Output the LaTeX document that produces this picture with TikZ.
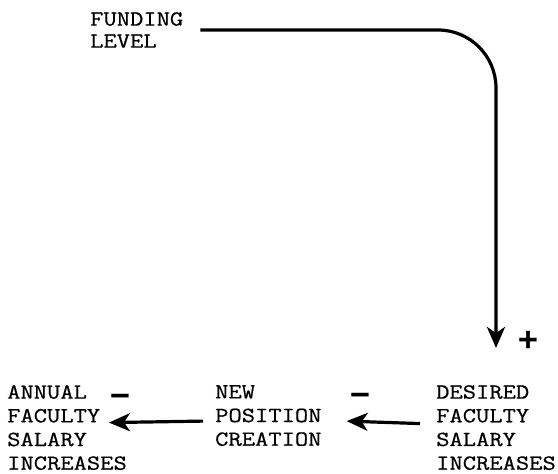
\documentclass[tikz,border=0pt]{standalone}
\usepackage{fontspec}
\usetikzlibrary{arrows.meta}
\newfontfamily\typewriter{Latin Modern Mono}[FakeStretch=1.2, FakeBold=0.6]
\newfontfamily\signfont{DejaVu Sans Bold}[FakeBold=1.5]
\begin{document}
\begin{tikzpicture}[x=1pt,y=-1pt,
  label text/.style={inner sep=0pt, anchor=north west, align=left,
    font=\typewriter\fontsize{21.5}{23.7}\selectfont},
  sign/.style={inner sep=0pt, font=\signfont\fontsize{27}{27}\selectfont},
  link/.style={line width=3.2pt,
    -{Stealth[length=21pt,width=18pt,inset=6pt]}}]
  \useasboundingbox (0,0) rectangle (558,474);

  % variables
  \node[label text, font=\typewriter\fontsize{21.5}{22}\selectfont]
    (fund) at (90,12) {FUNDING\\LEVEL};
  \node[label text] (annual) at (7,385) {ANNUAL\\FACULTY\\SALARY\\INCREASES};
  \node[label text] (newpos) at (215,385) {NEW\\POSITION\\CREATION};
  \node[label text] (desired) at (436,385) {DESIRED\\FACULTY\\SALARY\\INCREASES};

  % causal links
  \draw[link, rounded corners=58pt, shorten <=17pt, shorten >=37pt]
    (fund.east) -| (desired.north);
  \draw[link] ([shift={(-12,5.5)}]newpos.west) -- ([shift={(-18,-5)}]annual.east);
  \draw[link] ([shift={(-16,-4)}]desired.west) -- ([shift={(25,5.5)}]newpos.east);

  % link polarities
  \node[sign, anchor=base] (plus) at (528,348) {+};
  \node[sign, anchor=base] (minusA) at (120,404) {−};
  \node[sign, anchor=base] (minusB) at (360,403) {−};
\end{tikzpicture}
\end{document}
